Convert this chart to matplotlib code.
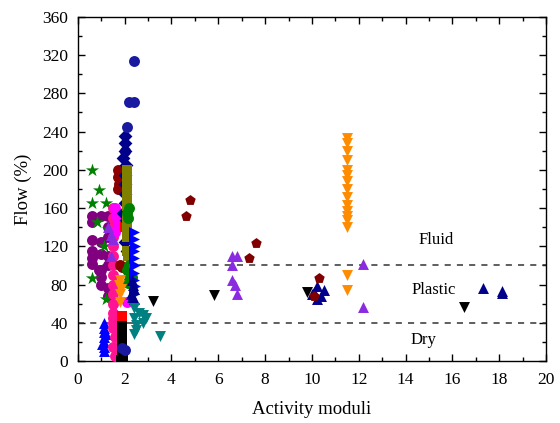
import matplotlib
matplotlib.use("Agg")
import matplotlib.pyplot as plt
from matplotlib.ticker import MultipleLocator

plt.rcParams['font.family'] = ['Liberation Serif', 'DejaVu Serif']

# ---- data ----
purple_circ_x = [0.6, 0.6, 1.0, 1.3, 0.6, 1.0, 0.6, 0.6, 1.0, 0.6, 1.0, 1.3, 1.0, 1.0, 1.3, 1.3, 1.3, 1.3, 0.9, 1.3]
purple_circ_y = [152, 145, 152, 152, 127, 125, 115, 108, 112, 101, 95, 110, 88, 80, 76, 68, 130, 140, 95, 100]

star_x = [0.6, 0.9, 0.6, 1.2, 0.8, 1.3, 1.1, 0.6, 1.2]
star_y = [200, 179, 165, 165, 145, 138, 120, 87, 65]

blue_tri_x = [1.1, 1.1, 1.1, 1.1, 1.1, 1.1, 1.1, 1.2, 1.05]
blue_tri_y = [40, 35, 30, 25, 20, 15, 10, 28, 18]

pink_x = [1.5, 1.5, 1.5, 1.5, 1.5, 1.5, 1.5, 1.5, 1.5, 1.5, 1.5, 1.5, 1.5, 1.5, 1.5, 1.6, 1.6, 1.5]
pink_y = [160, 150, 140, 130, 120, 110, 100, 90, 80, 70, 60, 50, 40, 35, 15, 5, 25, 45]

magenta_x = [1.6, 1.65, 1.7, 1.7, 1.6, 2.1]
magenta_y = [160, 152, 145, 140, 135, 62]

violet_tri_x = [1.3, 1.4, 1.5, 1.4, 6.6, 6.8, 6.6, 6.6, 6.7, 6.8, 12.2, 12.2]
violet_tri_y = [140, 132, 128, 110, 110, 110, 100, 85, 80, 70, 101, 56]

black_sq_x = [1.9, 1.9, 1.9, 1.9, 1.9, 1.9, 1.9, 1.95, 1.85]
black_sq_y = [40, 35, 30, 25, 20, 15, 8, 3, 1]

red_sq_x = [1.9, 2.0]
red_sq_y = [47, 140]

navy_diam_x = [2.0, 2.0, 2.0, 1.95, 2.05, 2.0, 2.0, 2.0, 2.0, 1.95, 2.05, 2.0, 2.1]
navy_diam_y = [235, 228, 220, 212, 205, 195, 185, 175, 165, 155, 148, 125, 115]

navy_ball_x = [2.4, 2.2, 2.4, 2.1, 1.9, 2.0]
navy_ball_y = [314, 271, 271, 245, 14, 12]

darkred_circ_x = [2.0, 1.7, 1.7, 1.75, 1.7, 2.0, 1.8, 1.9]
darkred_circ_y = [220, 200, 192, 185, 180, 202, 100, 98]

olive_sq_x = [2.1, 2.1, 2.1, 2.1, 2.1, 2.1, 2.1, 2.1, 2.1, 2.1, 2.15]
olive_sq_y = [200, 192, 185, 178, 170, 162, 150, 140, 130, 115, 110]

green_circ_x = [2.2, 2.1, 2.15, 2.2, 2.1, 2.2, 2.3, 2.2, 2.15]
green_circ_y = [160, 155, 150, 100, 95, 92, 88, 85, 82]

blue_right_x = [2.4, 2.4, 2.45, 2.4, 2.4, 2.45, 2.4, 2.4, 2.45, 2.4]
blue_right_y = [135, 128, 120, 115, 108, 100, 92, 85, 78, 70]

orange_tri_x = [1.8, 1.75, 1.85, 1.8, 1.8] + [11.5] * 16
orange_tri_y = [85, 80, 75, 70, 62] + [233, 228, 220, 210, 200, 195, 188, 180, 172, 163, 157, 152, 147, 140, 90, 74]

navy_tri_x = [2.3, 2.35, 2.4, 2.25, 2.3, 2.4, 10.1, 10.2, 10.4, 10.5, 10.2, 10.0, 17.3, 18.1, 18.1]
navy_tri_y = [85, 80, 75, 70, 67, 65, 72, 78, 68, 74, 65, 70, 76, 73, 71]

teal_tri_x = [2.4, 2.4, 2.5, 2.4, 2.8, 2.8, 3.5, 2.6, 2.5, 2.9]
teal_tri_y = [55, 45, 38, 28, 48, 40, 26, 50, 32, 45]

black_tri_x = [3.2, 5.8, 9.8, 16.5]
black_tri_y = [63, 69, 72, 57]

darkred_pent_x = [4.6, 4.8, 7.3, 7.6, 10.3, 10.1]
darkred_pent_y = [152, 168, 108, 123, 87, 68]

zone_limits = [100, 40]
zone_labels = ["Fluid", "Plastic", "Dry"]
zone_label_x = [15.3, 15.2, 14.75]
zone_label_y = [127, 74, 22]

fig = plt.figure(figsize=(5.6, 4.23), dpi=100)
ax = fig.add_axes([0.139, 0.1466, 0.836, 0.8134])

ms = 62
series = [
    (purple_circ_x, purple_circ_y, 'o', '#800080'),
    (star_x, star_y, '*', '#008000'),
    (blue_tri_x, blue_tri_y, '^', '#0000ff'),
    (pink_x, pink_y, 'o', '#ff1493'),
    (magenta_x, magenta_y, 'o', '#ff00ff'),
    (violet_tri_x, violet_tri_y, '^', '#8a2be2'),
    (black_sq_x, black_sq_y, 's', '#000000'),
    (red_sq_x, red_sq_y, 's', '#ff0000'),
    (darkred_circ_x, darkred_circ_y, 'o', '#8b0000'),
    (navy_diam_x, navy_diam_y, 'D', '#00008b'),
    (olive_sq_x, olive_sq_y, 's', '#808000'),
    (green_circ_x, green_circ_y, 'o', '#008000'),
    (blue_right_x, blue_right_y, '>', '#0000ff'),
    (orange_tri_x, orange_tri_y, 'v', '#ff8c00'),
    (navy_tri_x, navy_tri_y, '^', '#00008b'),
    (teal_tri_x, teal_tri_y, 'v', '#008080'),
    (black_tri_x, black_tri_y, 'v', '#000000'),
    (darkred_pent_x, darkred_pent_y, 'p', '#800000'),
    (navy_ball_x, navy_ball_y, 'o', '#1a1aa0'),
]
for xs, ys, m, c in series:
    s = ms * 1.6 if m == '*' else (ms * 0.8 if m == 'D' else ms)
    ax.scatter(xs, ys, marker=m, s=s, c=c, linewidths=0, zorder=3)

for lim in zone_limits:
    ax.axhline(lim, color='#333333', linestyle=(0, (4, 4)), linewidth=1.1, zorder=2)

for lbl, lx, ly in zip(zone_labels, zone_label_x, zone_label_y):
    ax.text(lx, ly, lbl, ha='center', va='center', fontsize=12)

ax.set_xlim(0, 20)
ax.set_ylim(0, 360)
ax.xaxis.set_major_locator(MultipleLocator(2))
ax.xaxis.set_minor_locator(MultipleLocator(1))
ax.yaxis.set_major_locator(MultipleLocator(40))
ax.yaxis.set_minor_locator(MultipleLocator(20))
ax.tick_params(which='both', direction='in', top=True, right=True, labelsize=12.5)
ax.tick_params(which='major', length=5, width=1)
ax.tick_params(which='minor', length=3, width=1)
ax.tick_params(axis='x', which='major', pad=8)
ax.tick_params(axis='y', which='major', pad=7)
for sp in ax.spines.values():
    sp.set_linewidth(1.0)

ax.set_xlabel("Activity moduli", fontsize=13.5, labelpad=9)
ax.set_ylabel("Flow (%)", fontsize=13.5, labelpad=7)

fig.savefig("out.png", dpi=100)
